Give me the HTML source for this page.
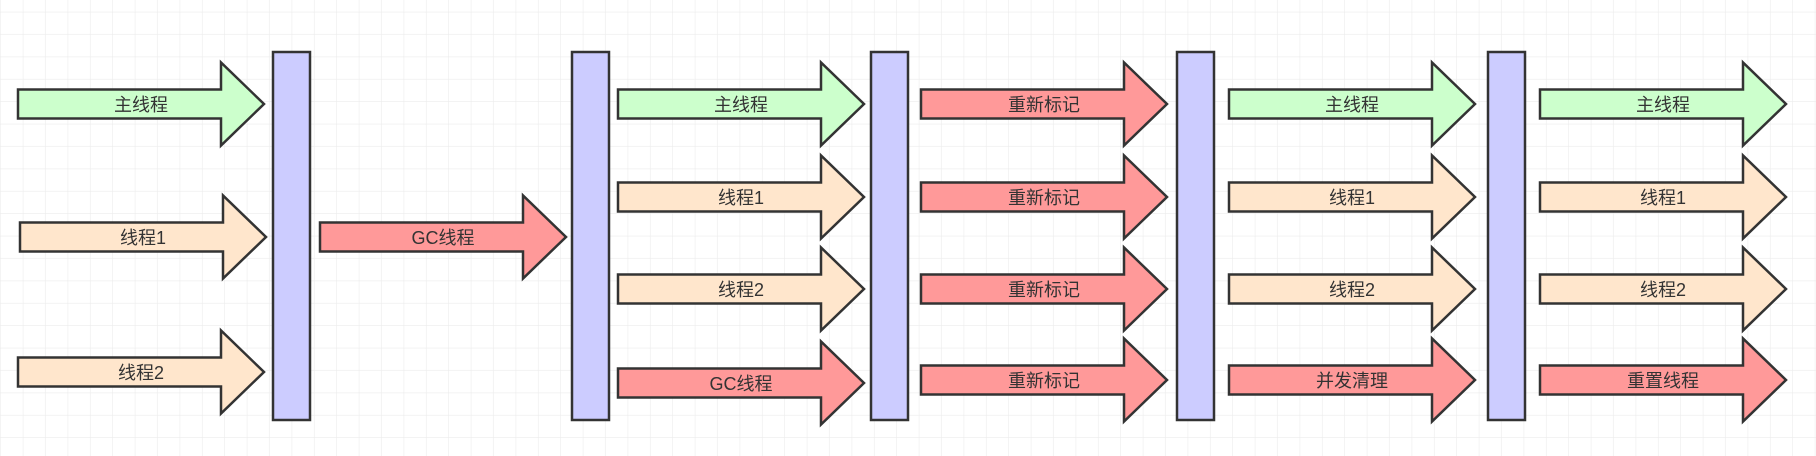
<!DOCTYPE html>
<html><head><meta charset="utf-8"><style>
html,body{margin:0;padding:0;background:#fff;}
svg{display:block;}
text{font-family:"Liberation Sans","Noto Sans CJK SC",sans-serif;font-size:18px;fill:#333;text-anchor:middle;dominant-baseline:central;}
</style></head><body>
<svg width="1816" height="456" xmlns="http://www.w3.org/2000/svg">
<defs>
<pattern id="g" x="1" y="-10" width="22.4" height="22.4" patternUnits="userSpaceOnUse">
<path d="M22.4 0V22.4M0 22.4H22.4" stroke="#ececec" stroke-width="1.2" fill="none"/>
</pattern>
</defs>
<rect width="1816" height="456" fill="url(#g)"/>
<g stroke="#333" stroke-width="2.5" fill="#ccccff">
<rect x="273" y="52" width="37" height="368"/>
<rect x="572" y="52" width="37" height="368"/>
<rect x="871" y="52" width="37" height="368"/>
<rect x="1177" y="52" width="37" height="368"/>
<rect x="1488" y="52" width="37" height="368"/>
</g>
<g id="arrows" stroke="#333" stroke-width="2.5" stroke-linejoin="miter"></g>
<g id="labels"></g>
<script>
var A=[
[18,104,"#ccffcc","主线程"],[20,237,"#ffe6cc","线程1"],[18,372,"#ffe6cc","线程2"],[320,237,"#ff9999","GC线程"],
[618,104,"#ccffcc","主线程"],[618,197,"#ffe6cc","线程1"],[618,289,"#ffe6cc","线程2"],[618,383,"#ff9999","GC线程"],
[921,104,"#ff9999","重新标记"],[921,197,"#ff9999","重新标记"],[921,289,"#ff9999","重新标记"],[921,380,"#ff9999","重新标记"],
[1229,104,"#ccffcc","主线程"],[1229,197,"#ffe6cc","线程1"],[1229,289,"#ffe6cc","线程2"],[1229,380,"#ff9999","并发清理"],
[1540,104,"#ccffcc","主线程"],[1540,197,"#ffe6cc","线程1"],[1540,289,"#ffe6cc","线程2"],[1540,380,"#ff9999","重置线程"]];
var ns="http://www.w3.org/2000/svg",g=document.getElementById("arrows"),l=document.getElementById("labels");
A.forEach(function(a){var x=a[0],y=a[1],w=246,h=43,bh=14.5,hh=41.5;
var p=document.createElementNS(ns,"polygon");
p.setAttribute("points",[x,y-bh,x+w-h,y-bh,x+w-h,y-hh,x+w,y,x+w-h,y+hh,x+w-h,y+bh,x,y+bh].join(" "));
p.setAttribute("fill",a[2]);g.appendChild(p);
var t=document.createElementNS(ns,"text");t.setAttribute("x",x+w/2);t.setAttribute("y",y+1);t.textContent=a[3];l.appendChild(t);});
</script>
</svg>
</body></html>
